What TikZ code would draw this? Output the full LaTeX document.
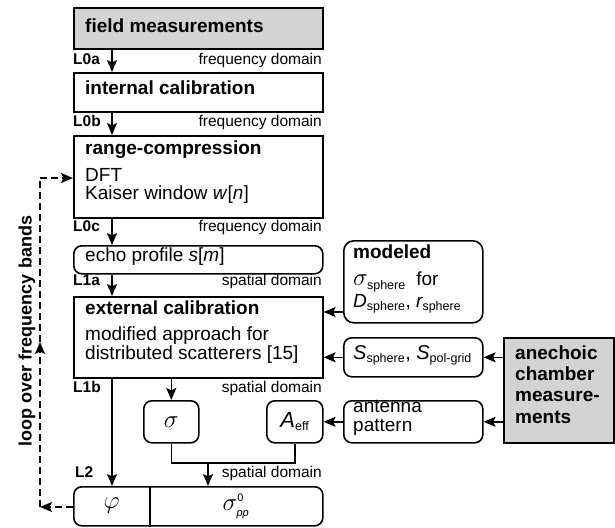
\documentclass[tikz,border=0pt]{standalone}
\usepackage{fontspec}
\setmainfont{Liberation Sans}
\usetikzlibrary{arrows.meta}
\definecolor{boxgray}{RGB}{211,211,211}
\newcommand\mysub[1]{\mbox{\fontsize{12.5}{12}\selectfont #1}}
\newcommand\mysmall[1]{\mbox{\fontsize{11}{11}\selectfont #1}}
\begin{document}
\begin{tikzpicture}[x=1pt,y=-1pt,
 box/.style={draw, line width=1.6pt, anchor=north west, inner sep=0pt},
 rbox/.style={box, rounded corners=8pt},
 hd/.style={font=\fontsize{19}{21}\selectfont\bfseries, anchor=mid west, inner sep=0pt},
 bd/.style={font=\fontsize{19}{21}\selectfont, anchor=mid west, inner sep=0pt},
 lab/.style={font=\fontsize{15.5}{16}\selectfont\bfseries, anchor=mid west, inner sep=0pt},
 dom/.style={font=\fontsize{15.5}{16}\selectfont, anchor=mid east, inner sep=0pt},
 big/.style={font=\fontsize{25}{25}\selectfont, inner sep=0pt},
 arr/.style={line width=1.5pt, -{Stealth[length=12pt,width=10pt,inset=2.5pt]}},
 con/.style={line width=1.5pt},
 lp/.style={line width=1.3pt, dash pattern=on 7pt off 4pt},
]
\useasboundingbox (0,0) rectangle (615,527);
% boxes
\node[box, fill=boxgray, minimum width=249pt, minimum height=41pt] (field) at (73,7) {};
\node[box, minimum width=249pt, minimum height=39pt] (intc) at (73,72) {};
\node[box, minimum width=249pt, minimum height=82pt] (rc) at (73,135) {};
\node[rbox, minimum width=249pt, minimum height=28pt] (echo) at (73,245) {};
\node[box, minimum width=249pt, minimum height=81pt] (ext) at (73,296) {};
\node[rbox, minimum width=55pt, minimum height=42pt] (sig) at (143,400) {};
\node[rbox, minimum width=56pt, minimum height=42pt] (aeff) at (266,400) {};
\node[rbox, minimum width=249pt, minimum height=39pt] (bot) at (73,486) {};
\node[box, rounded corners=10pt, minimum width=139pt, minimum height=82pt] (mod) at (343,240) {};
\node[rbox, minimum width=139pt, minimum height=39pt] (sbox) at (343,337) {};
\node[rbox, minimum width=139pt, minimum height=42pt] (ant) at (343,400) {};
\node[box, fill=boxgray, minimum width=110pt, minimum height=105pt] (ane) at (503,337) {};
\coordinate (div) at (150,0);
\draw[con] (bot.north -| div) -- (bot.south -| div);
% texts main column
\node[hd] (tfield) at (85,30) {field measurements};
\node[lab] (l0a) at (73,62) {L0a};
\node[dom] (d0a) at (322,62) {frequency domain};
\node[hd] (tintc) at (85,92) {internal calibration};
\node[lab] (l0b) at (73,124) {L0b};
\node[dom] (d0b) at (322,124) {frequency domain};
\node[hd] (trc) at (85,152) {range-compression};
\node[bd] (tdft) at (85,179) {DFT};
\node[bd] (tkai) at (85,197) {Kaiser window \textit{w}[\textit{n}]};
\node[lab] (l0c) at (73,229) {L0c};
\node[dom] (d0c) at (322,229) {frequency domain};
\node[bd] (techo) at (85,259) {echo profile \textit{s}[\textit{m}]};
\node[lab] (l1a) at (73,283) {L1a};
\node[dom] (d1a) at (322,283) {spatial domain};
\node[hd] (text) at (85,312) {external calibration};
\node[bd] (tmod1) at (85,338) {modified approach for};
\node[bd] (tmod2) at (85,357) {distributed scatterers [15]};
\node[lab] (l1b) at (73,390) {L1b};
\node[dom] (d1b) at (322,390) {spatial domain};
\node[big] (tsig) at (sig.center) {$\sigma$};
\node[font=\fontsize{22}{22}\selectfont, inner sep=0pt] (taeff) at (aeff.center) {$\mbox{\itshape A}_{\mysub{eff}}$};
\node[lab] (l2) at (75,475) {L2};
\node[dom] (d2) at (322,475) {spatial domain};
\node[big] (tphi) at (111.5,506) {$\varphi$};
\node[big] (tsig0) at (236,506) {$\sigma^{\mysmall{0}}_{\mysmall{\itshape pp}}$};
% right side texts
\node[hd] (tmodh) at (353,256) {modeled};
\node[bd] (tmodl1) at (353,283) {\fontsize{23}{23}\selectfont$\sigma_{\mysub{sphere}}$\fontsize{19}{21}\selectfont\ \ for};
\node[bd] (tmodl2) at (353,305) {$\mbox{\itshape D}_{\mysub{sphere}}$, $\mbox{\itshape r}_{\mysub{sphere}}$};
\node[bd, font=\fontsize{20}{21}\selectfont] (ts) at (353,357) {$\mbox{\itshape S}_{\mysub{sphere}}$, $\mbox{\itshape S}_{\mysub{pol-grid}}$};
\node[bd] (tant1) at (353,410) {antenna};
\node[bd] (tant2) at (353,429) {pattern};
\node[hd] (tane1) at (515,357) {anechoic};
\node[hd] (tane2) at (515,378) {chamber};
\node[hd] (tane3) at (515,399) {measure-};
\node[hd] (tane4) at (515,421) {ments};
\node[font=\fontsize{18}{18}\selectfont\bfseries, rotate=90, inner sep=0pt] (tloop) at (27,331) {loop over frequency bands};
% connectors main column
\coordinate (cx) at (112,0);
\draw[arr] (field.south -| cx) -- (intc.north -| cx);
\draw[arr] (intc.south -| cx) -- (rc.north -| cx);
\draw[arr] (rc.south -| cx) -- (echo.north -| cx);
\draw[arr] (echo.south -| cx) -- (ext.north -| cx);
\draw[arr] (ext.south -| cx) -- (bot.north -| cx);
\draw[arr] (ext.south -| sig.north) -- (sig.north);
\coordinate (j) at (208,463);
\draw[con] (sig.south) |- (j) -| (aeff.south);
\draw[arr] (j) -- (bot.north -| j);
% right connectors
\coordinate (a1) at (0,312);
\draw[arr] (mod.west |- a1) -- (ext.east |- a1);
\draw[arr] (sbox.west) -- (ext.east |- sbox.west);
\draw[arr] (ane.west |- sbox.east) -- (sbox.east);
\draw[arr] (ant.west) -- (aeff.east);
\draw[arr] (ane.west |- ant.east) -- (ant.east);
% loop
\coordinate (lb) at (40,507);
\coordinate (lm) at (40,342);
\coordinate (lt) at (40,178);
\draw[lp, arr] (bot.west |- lb) -- (lb);
\draw[lp, arr] (lb) -- (lm);
\draw[lp] (lm) -- (lt);
\draw[lp, arr] (lt) -- (rc.west |- lt);
\end{tikzpicture}
\end{document}
